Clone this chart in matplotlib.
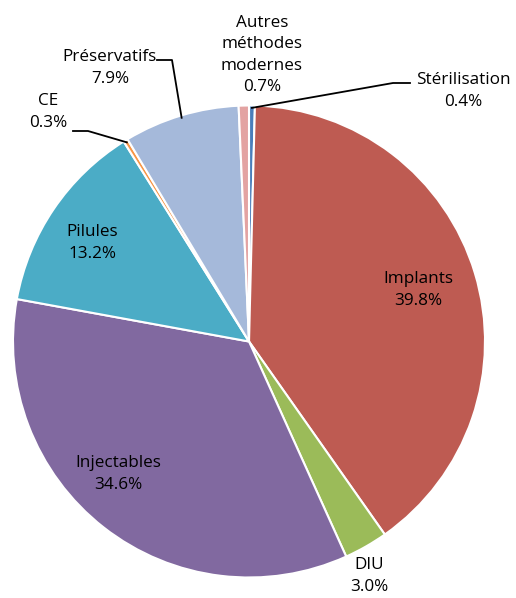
import numpy as np
import matplotlib
matplotlib.use("Agg")
import matplotlib.pyplot as plt

W, H = 516, 598

methods = ["Stérilisation", "Implants", "DIU", "Injectables", "Pilules",
           "CE", "Préservatifs", "Autres\nméthodes\nmodernes"]
shares = [0.4, 39.8, 3.0, 34.6, 13.2, 0.3, 7.9, 0.7]
colors = ["#4A7EBB", "#BE5B52", "#9BBB59", "#8169A0", "#4BACC6",
          "#F79646", "#A5B9DA", "#E3A3A2"]

# label centres (pixels, from top-left) and optional leader elbow
label_pos = {
    "Stérilisation": (463, 91),
    "Implants": (418, 290),
    "DIU": (369, 576),
    "Injectables": (118, 474),
    "Pilules": (92, 243),
    "CE": (48, 112),
    "Préservatifs": (110, 68),
    "Autres\nméthodes\nmodernes": (262, 55),
}
leaders = {
    "Stérilisation": [(410, 83), (393, 83)],
    "CE": [(73, 131), (88, 131)],
    "Préservatifs": [(157, 60), (172, 60)],
}

cx, cy, R = 249, 598 - 341.5, 236

fig = plt.figure(figsize=(W / 100, H / 100), dpi=100)
ax = fig.add_axes([0, 0, 1, 1])

wedges, _ = ax.pie(shares, colors=colors, startangle=90, counterclock=False,
                   center=(cx, cy), radius=R,
                   wedgeprops=dict(edgecolor="white", linewidth=1.5))
ax.set_xlim(0, W)
ax.set_ylim(0, H)
ax.set_aspect("equal")
ax.axis("off")

font = dict(family="Open Sans", fontsize=12.3, color="black",
            ha="center", va="center", linespacing=1.42)

for w, name, val in zip(wedges, methods, shares):
    x, y = label_pos[name]
    ax.text(x, H - y, f"{name}\n{val:.1f}%", **font)
    if name in leaders:
        mid = np.deg2rad((w.theta1 + w.theta2) / 2)
        ex, ey = cx + R * 0.99 * np.cos(mid), cy + R * 0.99 * np.sin(mid)
        pts = [(px, H - py) for px, py in leaders[name]] + [(ex, ey)]
        ax.plot([p[0] for p in pts], [p[1] for p in pts], color="black", lw=1.3)

fig.savefig("out.png", dpi=100)
